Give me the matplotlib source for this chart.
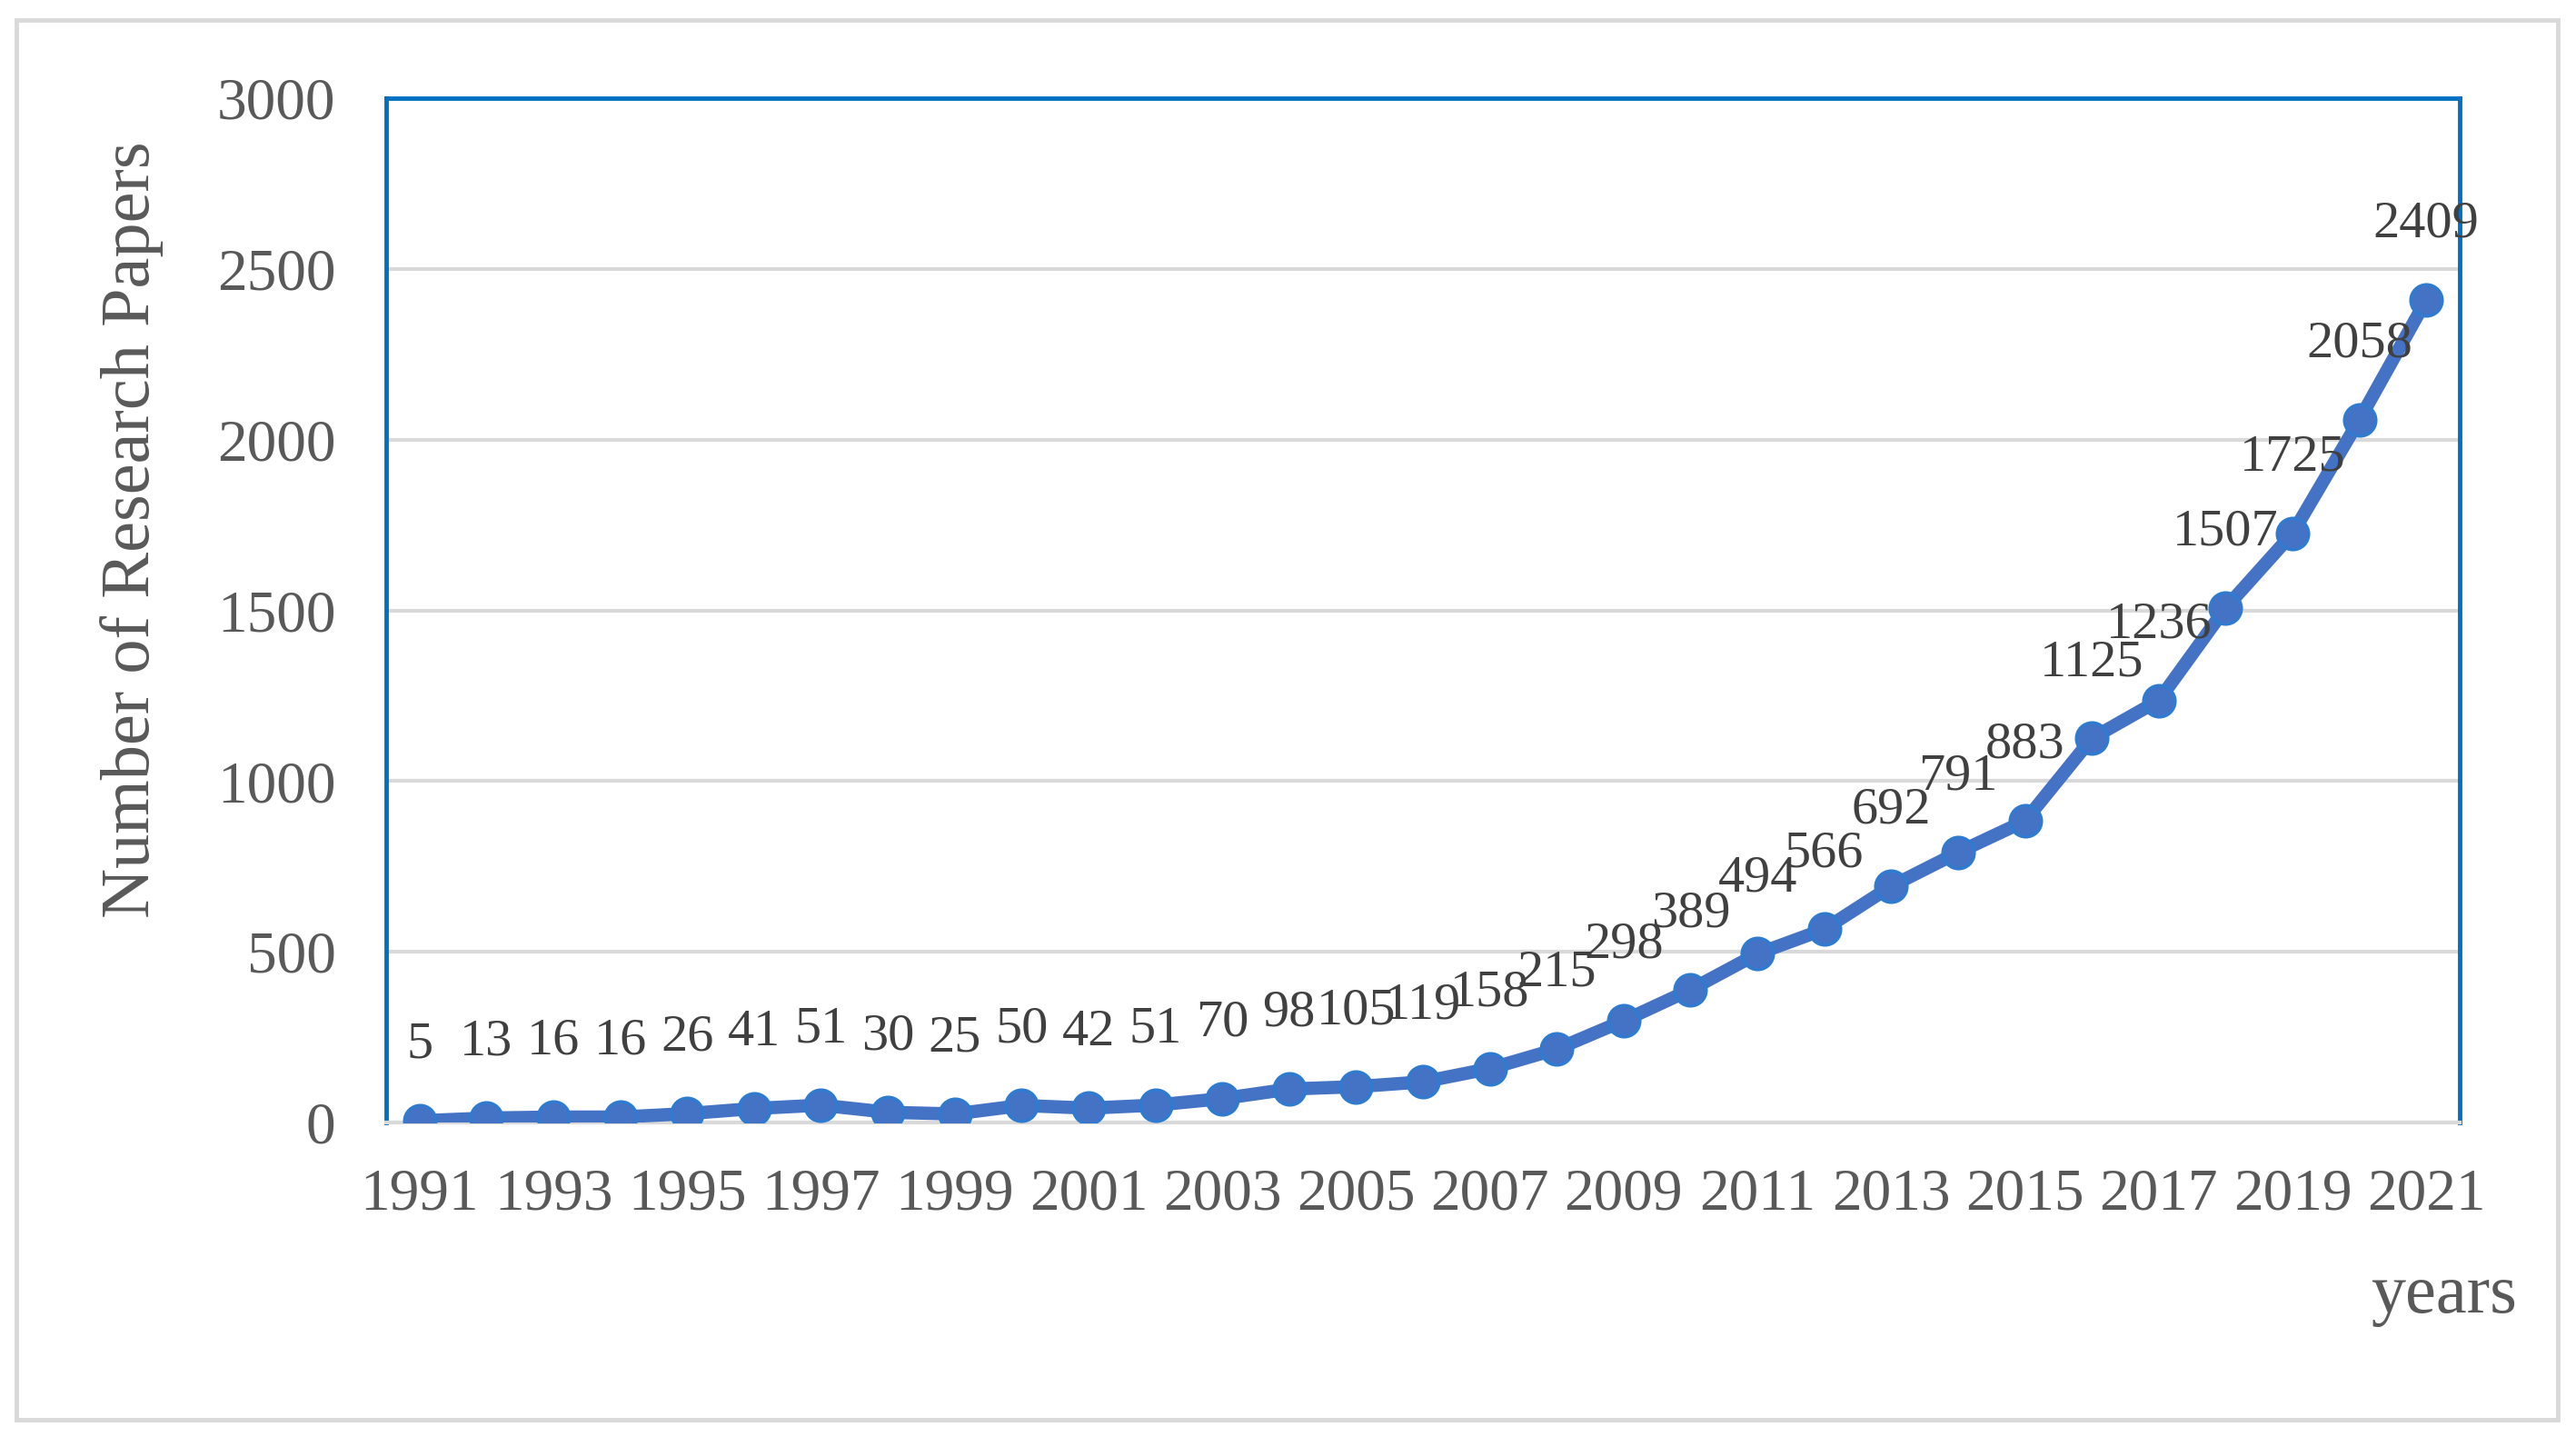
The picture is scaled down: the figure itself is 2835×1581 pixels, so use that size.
import matplotlib
matplotlib.use("Agg")
import matplotlib.pyplot as plt
from matplotlib.patches import Rectangle

years = list(range(1991, 2022))
papers = [5, 13, 16, 16, 26, 41, 51, 30, 25, 50, 42, 51, 70, 98, 105, 119,
          158, 215, 298, 389, 494, 566, 692, 791, 883, 1125, 1236, 1507,
          1725, 2058, 2409]
yticks = [0, 500, 1000, 1500, 2000, 2500, 3000]
xlabel = "years"
ylabel = "Number of Research Papers"

W, H = 2835, 1581
fig = plt.figure(figsize=(W / 100, H / 100), dpi=100)
plt.rcParams['font.family'] = ['Liberation Serif', 'DejaVu Serif']

# outer border
fig.patches.append(Rectangle((18 / W, 1 - 1562 / H), (2815 - 18) / W, (1562 - 22) / H,
                             transform=fig.transFigure, fill=False,
                             edgecolor='#D9D9D9', linewidth=3.5))

left, right, top, bottom = 425, 2707, 108, 1235
ax = fig.add_axes([left / W, 1 - bottom / H, (right - left) / W, (bottom - top) / H])

x = list(range(len(years)))
ax.plot(x, papers, color='#4472C4', linewidth=10.5, marker='o', markersize=25,
        markerfacecolor='#4472C4', markeredgecolor='#2E7BD0', markeredgewidth=2.4,
        zorder=3, solid_joinstyle='round')

for xi, v in zip(x, papers):
    ax.annotate(str(v), (xi, v), xytext=(0, 60), textcoords='offset points',
                ha='center', va='center', fontsize=42, color='#404040', zorder=4)

ax.set_xlim(-0.5, len(years) - 0.5)
ax.set_ylim(0, 3000)
ax.set_yticks(yticks)
ax.set_yticklabels([str(t) for t in yticks])
ax.set_xticks(x[::2])
ax.set_xticklabels([str(y) for y in years[::2]])
ax.tick_params(axis='both', length=0, labelsize=47, colors='#595959')
ax.tick_params(axis='x', pad=36)
ax.tick_params(axis='y', pad=40)

ax.grid(axis='y', color='#D9D9D9', linewidth=3)
ax.set_axisbelow(True)
for s in ['left', 'top', 'right']:
    ax.spines[s].set_color('#0070C0')
    ax.spines[s].set_linewidth(3.5)
ax.spines['bottom'].set_color('#D9D9D9')
ax.spines['bottom'].set_linewidth(3)

fig.text(145 / W, 1 - 583 / H, ylabel, rotation=90, ha='center', va='center',
         fontsize=55, color='#595959')
fig.text(2690 / W, 1 - 1425 / H, xlabel, ha='center', va='center',
         fontsize=55, color='#595959')

fig.savefig("out.png", dpi=100)
